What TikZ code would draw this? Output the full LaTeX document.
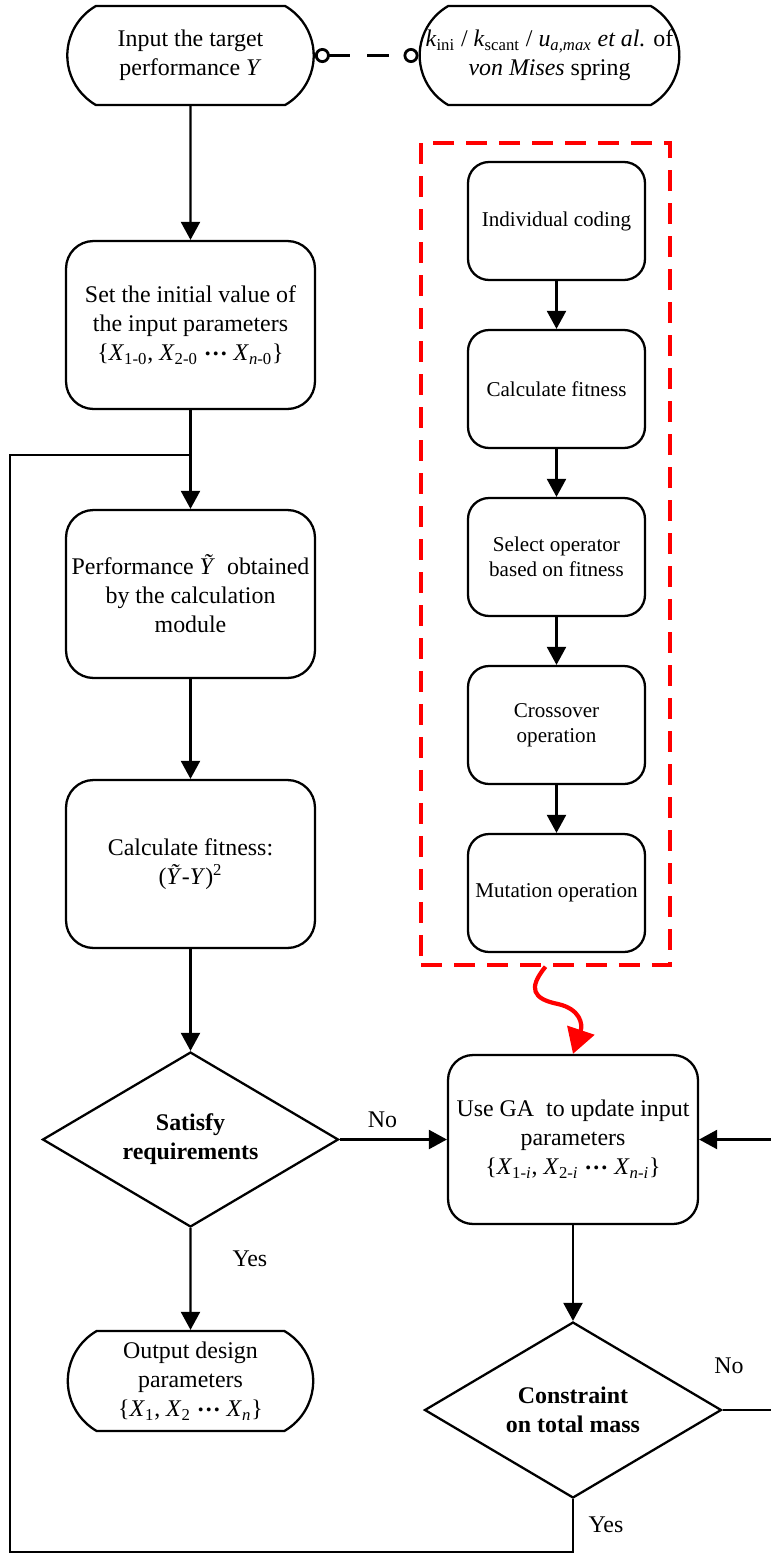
\documentclass[tikz,border=0pt]{standalone}
\usepackage{fontspec}
\setmainfont{Liberation Serif}
\usepackage{tikz}
\usetikzlibrary{arrows.meta,positioning,shapes.geometric,shapes.misc}
\definecolor{ink}{RGB}{0,0,0}
\definecolor{gared}{RGB}{255,0,0}
\newcommand{\mainsize}{\fontsize{13.6}{16.5}\selectfont}
\newcommand{\gasize}{\fontsize{12}{14.2}\selectfont}
\newcommand{\subx}[2]{\textit{#1}\textsubscript{#2}}
\newcommand{\dotrow}{\raisebox{0.22em}{\textbf{…}}}
\tikzset{
  flowline/.style={line width=1.3pt,draw=ink},
  arrow/.style={flowline,-{Triangle[length=0.36cm,width=0.38cm]}},
  box/.style={flowline,rounded corners=0.55cm,align=center,minimum width=4.98cm,minimum height=3.36cm,font=\mainsize,inner sep=2pt},
  gabox/.style={flowline,rounded corners=0.42cm,align=center,minimum width=3.54cm,minimum height=2.36cm,font=\gasize,inner sep=2pt},
  term/.style={flowline,rounded rectangle,rounded rectangle arc length=120,align=center,minimum width=5.0cm,minimum height=1.98cm,font=\mainsize,inner sep=1pt},
  decision/.style={flowline,diamond,aspect=1.7,align=center,minimum width=5.92cm,minimum height=3.5cm,inner sep=0pt,font=\mainsize\bfseries},
  answer/.style={font=\mainsize},
  gaframe/.style={draw=gared,line width=2pt,dash pattern=on 0.42cm off 0.24cm},
  redarrow/.style={draw=gared,line width=2.4pt,-{Triangle[length=0.5cm,width=0.56cm]}},
  linkline/.style={flowline,line width=1.6pt,dash pattern=on 0.44cm off 0.34cm,{Circle[open,fill=white,length=0.3cm]}-{Circle[open,fill=white,length=0.3cm]}}
}
\begin{document}
\begin{tikzpicture}[x=0.02cm,y=-0.02cm]
  \useasboundingbox (0,0) rectangle (771,1556);

  % main column
  \node[term] (start) at (190.5,55.5) {Input the target\\performance \textit{Y}};
  \node[term,minimum width=4.98cm,inner sep=0pt] (spring) at (549.5,55.5) {
    \textit{k}\textsubscript{ini} / \textit{k}\textsubscript{scant} / \textit{u}\textsubscript{\textit{a,max}} \textit{et al.} of\\
    \textit{von Mises} spring
  };
  \node[box] (init) at (190.5,325) {
    Set the initial value of\\
    the input parameters\\
    \{\subx{X}{1-0}, \subx{X}{2-0} \dotrow{} \subx{X}{\textit{n}-0}\}
  };
  \node[box] (perf) at (190.5,594) {Performance \textit{Ỹ}~ obtained\\by the calculation\\module};
  \node[box] (fit) at (190.5,864) {Calculate fitness:\\(\textit{Ỹ}-\textit{Y})\textsuperscript{2}};
  \node[decision] (satisfy) at (190.5,1139.5) {Satisfy\\requirements};
  \node[term,minimum width=4.98cm,minimum height=2.0cm] (output) at (190.5,1381) {
    Output design\\
    parameters\\
    \{\subx{X}{1}, \subx{X}{2} \dotrow{} \subx{X}{\textit{n}}\}
  };

  % GA part
  \node[box,rounded corners=0.5cm,minimum width=5.0cm,minimum height=3.38cm] (gaupd) at (573,1139.5) {
    Use GA~ to update input\\
    parameters\\
    \{\subx{X}{1-\textit{i}}, \subx{X}{2-\textit{i}} \dotrow{} \subx{X}{\textit{n}-\textit{i}}\}
  };
  \node[decision,minimum width=5.94cm,minimum height=3.52cm] (mass) at (573,1410) {Constraint\\on total mass};

  \node[gabox] (code) at (556.5,221) {Individual coding};
  \node[gabox] (gafit) at (556.5,389) {Calculate fitness};
  \node[gabox] (select) at (556.5,557) {Select operator\\based on fitness};
  \node[gabox] (cross) at (556.5,725) {Crossover\\operation};
  \node[gabox] (mutate) at (556.5,893) {Mutation operation};
  \node[gaframe,minimum width=4.98cm,minimum height=16.44cm,inner sep=0pt] (frame) at (545.5,554) {};

  \coordinate (waist) at (558,1004);
  \coordinate (looptop) at (10,455);
  \coordinate (loopbot) at (10,1552);

  % connectors
  \draw[linkline] (start.east) -- (spring.west);
  \draw[arrow] (start) -- (init);
  \draw[arrow] (init) -- (perf);
  \draw[arrow] (perf) -- (fit);
  \draw[arrow] (fit) -- (satisfy);
  \draw[arrow] (satisfy) -- node[answer,pos=0.3,anchor=west,xshift=0.7cm] {Yes} (output);
  \draw[arrow] (satisfy.east) -- node[answer,above=3pt,pos=0.4] {No} (gaupd.west);
  \draw[arrow] (gaupd) -- (mass);
  \draw[arrow] (mass.east) -- ++(51,0) |- (gaupd.east);
  \draw[flowline] (mass.south) -- (mass.south |- loopbot) -- (loopbot) -- (looptop) -- (looptop -| init.south);
  \node[answer] (no2) at (729,1366) {No};
  \node[answer] (yes2) at (606,1525) {Yes};

  \foreach \a/\b in {code/gafit,gafit/select,select/cross,cross/mutate}
    \draw[arrow] (\a) -- (\b);

  \draw[redarrow] (frame.south) .. controls +(-18,22) and +(-25,-5) .. (waist)
    .. controls +(22,5) and +(10,-30) .. (gaupd.north);
\end{tikzpicture}
\end{document}
